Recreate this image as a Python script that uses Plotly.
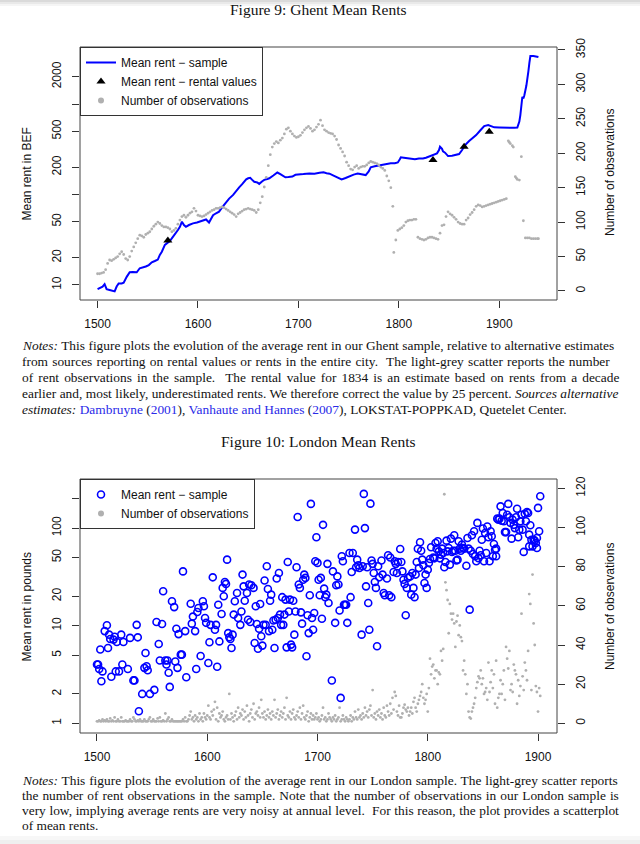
import plotly.graph_objects as go

# ---------------- Figure 9: Ghent ----------------
ghent_years = [1500, 1503, 1505, 1507, 1509, 1512, 1515, 1517, 1519, 1521, 1524, 1526, 1529, 1532, 1535,
               1539, 1542, 1545, 1548, 1551, 1554, 1557, 1560, 1562, 1564, 1567, 1570, 1572, 1575, 1577,
               1580, 1582, 1584, 1586, 1588, 1591, 1595, 1599, 1602, 1605, 1608, 1611, 1613, 1615, 1618,
               1621, 1624, 1628, 1631, 1635, 1638, 1641, 1644, 1648, 1650, 1652, 1654, 1656, 1659, 1661,
               1664, 1666, 1669, 1671, 1675, 1679, 1682, 1687, 1690, 1694, 1697, 1700, 1705, 1711, 1716,
               1721, 1725, 1728, 1731, 1735, 1740, 1743, 1747, 1751, 1755, 1759, 1763, 1767, 1770, 1772,
               1776, 1782, 1787, 1792, 1796, 1799, 1801, 1802, 1805, 1808, 1812, 1816, 1820, 1824, 1827,
               1830, 1834, 1838, 1840, 1841, 1843, 1844, 1846, 1849, 1853, 1857, 1860, 1863, 1866, 1870,
               1874, 1877, 1881, 1885, 1889, 1892, 1895, 1900, 1905, 1910, 1915, 1918, 1920, 1921, 1923,
               1924, 1925, 1927, 1928, 1929, 1930, 1931, 1934, 1939]
ghent_rent = [9.0, 9.3, 9.6, 10.2, 9.0, 8.8, 8.6, 8.5, 9.6, 10.4, 10.4, 10.6, 12.3, 13.8, 13.9,
              13.8, 15.3, 15.6, 16.0, 16.6, 17.8, 18.4, 19.1, 21.5, 23.3, 27.7, 29.5, 30.5, 34, 37,
              40.5, 44, 50, 46, 44, 46, 48, 49, 50, 51, 53, 49, 55, 59, 62,
              64.6, 72, 83, 90, 99, 110, 120, 130, 147, 151, 153, 145, 138, 136, 131,
              140, 145, 148, 151, 162, 175, 168, 155, 156, 158, 165, 167, 168, 171, 170,
              174, 176, 172, 170, 162, 152, 147, 152, 160, 166, 170, 168, 164, 180, 200,
              205, 212, 216, 221, 222, 226, 245, 258, 255, 251, 247, 245, 250, 250, 255,
              262, 270, 285, 310, 337, 320, 300, 290, 266, 268, 275, 280, 310, 352, 390,
              425, 454, 510, 571, 586, 570, 552, 550, 547, 550, 545, 550, 640, 755, 1203,
              1150, 1250, 1600, 1850, 2300, 2850, 3390, 3400, 3300]

rental_years = [1570, 1834, 1865, 1890]
rental_values = [31, 240, 337, 494]

ghent_obs_years = [1500, 1502, 1504, 1506, 1508, 1510, 1512, 1514, 1516, 1518, 1520, 1522, 1524, 1526, 1528,
                   1530, 1532, 1534, 1536, 1538, 1540, 1542, 1544, 1546, 1548, 1550, 1552, 1554, 1556, 1558,
                   1560, 1562, 1564, 1566, 1568, 1570, 1572, 1574, 1576, 1578, 1580, 1582, 1584, 1586, 1588,
                   1590, 1592, 1594, 1596, 1598, 1600, 1602, 1604, 1606, 1608, 1610, 1612, 1614, 1616, 1618,
                   1620, 1622, 1624, 1626, 1628, 1630, 1632, 1634, 1636, 1638, 1640, 1642, 1644, 1646, 1648,
                   1650, 1652, 1654, 1656, 1658, 1660, 1662, 1664, 1666, 1668, 1670, 1672, 1674, 1676, 1678,
                   1680, 1682, 1684, 1686, 1688, 1690, 1692, 1694, 1696, 1698, 1700, 1702, 1704, 1706, 1708,
                   1710, 1712, 1714, 1716, 1718, 1720, 1722, 1724, 1726, 1728, 1730, 1732, 1734, 1736, 1738,
                   1740, 1742, 1744, 1746, 1748, 1750, 1752, 1754, 1756, 1758, 1760, 1762, 1764, 1766, 1768,
                   1770, 1772, 1774, 1776, 1778, 1780, 1782, 1784, 1786, 1788, 1790, 1792, 1794, 1795, 1797,
                   1799, 1801, 1803, 1805, 1807, 1809, 1811, 1813, 1815, 1817, 1819, 1821, 1823, 1825, 1827,
                   1829, 1831, 1833, 1835, 1837, 1839, 1841, 1843, 1845, 1847, 1849, 1851, 1853, 1855, 1857,
                   1859, 1861, 1863, 1865, 1867, 1869, 1871, 1873, 1875, 1877, 1879, 1881, 1883, 1885, 1887,
                   1889, 1891, 1893, 1895, 1897, 1899, 1901, 1903, 1905, 1907, 1909, 1910, 1911, 1913, 1914,
                   1916, 1917, 1918, 1920, 1922, 1924, 1926, 1928, 1930, 1932, 1934, 1936, 1938, 1939]
ghent_obs = [25, 25, 26, 27, 31, 40, 45, 44, 46, 48, 50, 54, 57, 53, 47,
             45, 50, 58, 64, 70, 76, 81, 80, 78, 82, 84, 86, 90, 94, 97,
             100, 98, 95, 93, 93, 92, 90, 86, 88, 91, 97, 103, 108, 110, 107,
             110, 113, 115, 120, 116, 110, 109, 108, 109, 111, 113, 115, 117, 118, 120,
             120, 121, 122, 121, 119, 117, 115, 113, 111, 108, 112, 114, 116, 118, 119,
             120, 119, 118, 117, 114, 118, 128, 137, 151, 165, 182, 198, 209, 214, 217,
             215, 219, 222, 228, 235, 237, 232, 228, 225, 223, 224, 226, 230, 234, 237,
             239, 236, 232, 234, 238, 242, 248, 240, 234, 232, 230, 229, 228, 225, 220,
             212, 207, 202, 196, 187, 182, 177, 176, 180, 182, 178, 180, 181, 181, 183,
             186, 188, 187, 186, 185, 183, 180, 178, 175, 167, 160, 150, 123, 56, 74,
             88, 90, 92, 95, 100, 102, 103, 103, 104, 104, 78, 76, 75, 74, 75,
             77, 78, 78, 77, 76, 75, 84, 95, 96, 108, 115, 112, 110, 107, 104,
             100, 98, 97, 97, 103, 106, 111, 114, 118, 123, 125, 124, 122, 123, 124,
             125, 126, 127, 128, 129, 130, 131, 132, 133, 134, 218, 216, 214, 211, 209,
             166, 164, 162, 161, 195, 102, 77, 77, 77, 76, 76, 76, 76, 76]

# ---------------- Figure 10: London ----------------
london_years = [1500, 1501, 1502, 1503, 1504, 1505, 1507, 1509, 1510, 1511, 1512, 1513, 1515, 1516, 1517,
                1518, 1520, 1522, 1523, 1524, 1528, 1530, 1533, 1534, 1536, 1537, 1538, 1541, 1543, 1544,
                1545, 1546, 1548, 1552, 1554, 1556, 1557, 1559, 1560, 1562, 1563, 1564, 1565, 1566, 1568,
                1570, 1571, 1572, 1573, 1574, 1576, 1577, 1578, 1580, 1581, 1585, 1586, 1587, 1589, 1590,
                1591, 1592, 1594, 1596, 1597, 1598, 1599, 1601, 1602, 1603, 1605, 1607, 1608, 1609, 1610,
                1611, 1613, 1614, 1615, 1616, 1617, 1618, 1619, 1620, 1621, 1622, 1623, 1624, 1625, 1627,
                1628,
                1630, 1631, 1632, 1633, 1634, 1636, 1637, 1638, 1639, 1640, 1642, 1643, 1644, 1645, 1646,
                1647, 1648, 1649, 1650, 1651, 1652, 1653, 1654, 1655, 1656, 1657, 1658, 1659, 1660, 1661,
                1662, 1663, 1664, 1665, 1666, 1667, 1668, 1669, 1670, 1671, 1672, 1673, 1674, 1675, 1676,
                1677, 1678, 1679, 1680, 1681, 1682, 1683, 1684, 1685, 1686, 1687, 1688, 1689, 1690, 1691,
                1692, 1693, 1694, 1695, 1696, 1697, 1698, 1699, 1700, 1701, 1702, 1703, 1704, 1705, 1706,
                1707, 1708, 1709, 1710, 1713, 1714, 1716, 1717, 1718, 1719, 1720, 1721, 1722, 1723, 1724,
                1725, 1726, 1727, 1729, 1730, 1731, 1732, 1734, 1735, 1736, 1737, 1738, 1740, 1741, 1742,
                1743, 1744, 1745, 1746, 1747, 1748, 1749, 1750, 1751, 1752, 1753, 1754, 1755, 1756, 1758,
                1759, 1760, 1761, 1763, 1764, 1765, 1766, 1767, 1769, 1770, 1771, 1772, 1773,
                1775, 1776, 1777, 1778, 1779, 1780, 1781, 1782, 1784, 1785, 1786, 1787, 1788, 1789, 1790,
                1791, 1792, 1793, 1794, 1795, 1796, 1797, 1798, 1799, 1800, 1801, 1802, 1803, 1805, 1806,
                1807, 1808, 1809, 1810, 1811, 1812, 1813, 1814, 1815, 1816, 1817, 1818, 1819, 1820, 1821,
                1822, 1823, 1824, 1825, 1826, 1827, 1828, 1829, 1830, 1831, 1832, 1833, 1835, 1836, 1837,
                1838, 1839, 1840, 1841, 1842, 1843, 1844, 1845, 1846, 1847, 1848, 1849, 1850, 1851, 1852,
                1853, 1854, 1855, 1856, 1857, 1858, 1859, 1860, 1861, 1862, 1862, 1863, 1864, 1865, 1866,
                1867, 1868, 1869, 1870, 1871, 1872, 1873, 1874, 1875, 1876, 1877, 1878, 1879, 1880, 1881,
                1882, 1883, 1884, 1885, 1886, 1887, 1888, 1889, 1890, 1891, 1892, 1892, 1893, 1894, 1895,
                1896, 1897, 1898, 1899, 1899, 1900, 1901, 1902]
london_rent = [4.0, 4.0, 3.6, 5.7, 2.7, 3.4, 8.8, 10.1, 5.9, 8.1, 7.3, 3.0, 7.2, 7.7, 3.4,
               6.8, 3.4, 8.1, 4.0, 6.8, 3.6, 7.5, 2.75, 2.75, 10.2, 7.6, 1.33, 2.0, 3.7, 5.25,
               3.84, 3.5, 2.0, 2.2, 10.9, 6.5, 4.4, 10.4, 22.5, 4.4, 4.0, 4.4, 3.3, 2.36, 17.8,
               15.5, 4.3, 9.3, 3.7, 8.2, 5.05, 5.05, 36, 8.8, 2.96, 16.8, 10.5, 12.4, 8.8, 3.6,
               13.8, 15.2, 4.9, 17.8, 15.8, 12, 10.7, 4.15, 6.76, 10.2, 31.3, 9.1, 10.2, 3.8, 16.4,
               6.9, 13.2, 24.4, 20, 28, 26.8, 47.5, 8.4, 7.6, 7.3, 5.9, 8.1, 13, 17.8, 21.6,
               12,
               10.2, 14, 33.4, 25.3, 18, 21.6, 11.5, 26.4, 10.9, 26, 24.4, 6.65, 15.8, 10.4, 5.8,
               9.3, 16.7, 7.8, 6.25, 10.2, 29, 10.2, 40.6, 23.8, 8.8, 18, 20.8, 9.1, 11.3, 5.9,
               11.5, 30.4, 12, 34.7, 13, 10.2, 19.6, 10.2, 13, 18.5, 6.0, 45, 14, 18.5, 6.4,
               6.0, 18, 8.1, 14, 39.7, 130, 26.4, 24.4, 13.7, 10.5, 29.6, 33.4, 30.9, 4.86, 12.8,
               8.4, 20.5, 177, 12, 9.1, 13.5, 45.7, 80.5, 44, 29.6, 20.5, 30.9, 11.8, 108, 24,
               19.6, 20.8, 43, 17.1, 2.74, 36, 10.7, 26, 32, 26.4, 14.3, 1.82, 51.4, 45.7, 16.4,
               16.4, 16.4, 10.7, 55.6, 19.6, 35.5, 55.6, 96.5, 39.7, 47.5, 41.6, 39, 8.1, 40.6, 224,
               100, 25.3, 39.7, 17.1, 9.1, 178, 46.6, 43, 34.7, 28, 24.4, 6.15, 40.6, 31.3, 46.6,
               33.4, 21.6, 20.5, 30.4, 52.7, 20.5, 50, 19.6, 35.5, 45.7, 43, 34.7, 45,
               61, 45, 36, 29.6, 26.8, 12.8, 24.4, 31, 32, 20.8, 34.7, 24.4, 19.6, 33.4, 45,
               61.5, 39, 71.6, 58.7, 47.5, 41.6, 27.4, 33.4, 24.4, 37.5, 44, 48.3, 63.6, 50, 49,
               70.4, 61.6, 73.3, 57.8, 49, 53.5, 61.6, 55.6, 39.7, 45, 74.4, 57.8, 62.5, 42.2, 78,
               57, 58.7, 84.4, 58.7, 46.6, 47.5, 73.3, 61.6, 58.7, 67.7, 62.5, 61.6, 41.2, 79.2, 61.6,
               14.6, 58.7, 84.4, 54.3, 92.7, 51.4, 45.7, 113, 49.2, 58.7, 52.7, 76, 99, 45.7, 89,
               55.6, 104, 80.5, 45.7, 92.7, 82.4, 51.4, 68.8, 60, 61.6, 51.4, 125, 122, 125, 167,
               119, 143, 117.5, 91, 91, 137, 177, 129, 113, 78, 122, 108, 100, 129, 158,
               80.5, 96.4, 117.5, 137, 96.4, 57, 140, 117.5, 146, 143, 85.7, 65, 107, 76, 65,
               76, 74.4, 70.4, 62.5, 79.2, 161, 92.7, 212]

london_obs_years = list(range(1500, 1903))
london_obs = [1, 1, 1.5, 1, 1, 2, 1, 1.5, 1, 2, 1, 1, 2.5, 1, 1.5, 1, 3, 1, 1, 2,
              1, 1, 3, 1, 1, 1, 1.5, 1, 1, 1, 2, 1, 1, 3, 2, 1, 1, 1.5, 1, 2,
              1, 1, 1, 2, 1, 1, 1, 2, 3, 1, 1, 2, 1, 1, 1, 2.5, 1, 3, 1, 1,
              1.5, 1, 5, 1, 2, 3, 1, 1, 2, 1, 1, 1, 1, 1, 1, 1, 1, 1, 2, 1,
              3, 1, 1, 2, 4, 6, 2, 3, 1, 4, 2, 3, 1, 5, 2, 3, 1, 5, 3, 2,
              4, 9, 3, 2, 6, 4, 7, 11, 2, 8, 1, 5, 3, 4, 6, 2, 1, 3, 4, 2,
              15, 2, 5, 3, 1, 4, 6, 2, 8, 3, 5, 4, 7, 2, 6, 3, 9, 4, 1, 5,
              7, 3, 10, 2, 5, 6, 4, 8, 3, 12, 5, 3, 6, 2, 4, 7, 3, 5, 2, 6,
              4, 12, 3, 5, 7, 2, 4, 6, 3, 5, 8, 2, 13, 4, 3, 6, 2, 5, 7, 3,
              2, 4, 6, 3, 8, 2, 5, 9, 3, 2, 4, 6, 1, 3, 5, 2, 4, 2, 3, 5,
              2, 3, 1, 2, 4, 8, 2, 3, 1, 2, 5, 3, 2, 1, 3, 2, 4, 1, 2, 3,
              8, 1, 2, 4, 2, 1, 3, 2, 1, 2, 4, 1, 3, 2, 6, 3, 2, 7, 3, 4,
              2, 5, 3, 8, 4, 6, 3, 7, 9, 4, 17, 3, 5, 2, 6, 4, 7, 3, 5, 2,
              8, 4, 3, 9, 6, 4, 10, 5, 13, 7, 16, 14, 6, 4, 9, 3, 3, 5, 8, 9.5,
              7, 6, 8, 4, 6, 8, 5, 11, 13, 8, 6, 10, 12, 14, 16, 20, 13, 10, 12, 15,
              6, 18, 33, 25, 29, 30, 23, 27, 27, 20, 26, 25, 37, 32, 38, 117, 72, 68, 63, 46,
              61, 56, 53, 56, 51, 39, 52, 55, 45, 50, 44, 42, 27, 32, 25, 15, 20, 6, 3, 2.4,
              6, 8, 10, 13, 18, 21, 24, 23, 27, 20, 23, 15, 16, 18, 12, 31, 16, 21, 27, 18,
              25, 10, 32, 8, 13, 15, 22, 15, 20, 27, 12, 39, 33, 28, 37, 17, 20, 16, 30, 27,
              25, 10, 22, 14, 19, 56, 24, 17, 31, 27, 22, 37, 66, 61, 17, 76, 51, 40, 19, 16,
              6, 18, 14]

# ---------------- styling constants ----------------
BLUE = "#0000ff"
GREY = "#b0b0b0"
SANS = "Liberation Sans"
SERIF = "Liberation Serif"
W, H = 640, 844


def px(x):
    return x / W


def py(y):
    return 1 - y / H


fig = go.Figure()

fig.add_trace(go.Scatter(x=ghent_years, y=ghent_rent, mode="lines",
                         line=dict(color=BLUE, width=2), name="Mean rent \u2212 sample",
                         xaxis="x", yaxis="y", legend="legend", legendrank=1))
fig.add_trace(go.Scatter(x=rental_years, y=rental_values, mode="markers",
                         marker=dict(symbol="triangle-up", size=8, color="black"),
                         name="Mean rent \u2212 rental values", xaxis="x", yaxis="y",
                         legend="legend", legendrank=2))
fig.add_trace(go.Scatter(x=[None], y=[None], mode="markers",
                         marker=dict(size=6, color=GREY), name="Number of observations",
                         xaxis="x", yaxis="y2", legend="legend", legendrank=3))
fig.add_trace(go.Scatter(x=ghent_obs_years, y=ghent_obs, mode="markers",
                         marker=dict(size=2.8, color=GREY), showlegend=False,
                         xaxis="x", yaxis="y2"))

fig.add_trace(go.Scatter(x=london_years, y=london_rent, mode="markers",
                         marker=dict(symbol="circle-open", size=7, color=BLUE,
                                     line=dict(width=1.6, color=BLUE)),
                         name="Mean rent \u2212 sample", xaxis="x2", yaxis="y3",
                         legend="legend2", legendrank=1))
fig.add_trace(go.Scatter(x=[None], y=[None], mode="markers",
                         marker=dict(size=6, color=GREY), name="Number of observations",
                         xaxis="x2", yaxis="y4", legend="legend2", legendrank=2))
fig.add_trace(go.Scatter(x=london_obs_years, y=london_obs, mode="markers",
                         marker=dict(size=2.8, color=GREY), showlegend=False,
                         xaxis="x2", yaxis="y4"))

tickfont = dict(family=SANS, size=12, color="#111")
common_axis = dict(showgrid=False, zeroline=False, showline=False, ticks="outside",
                   ticklen=7, tickwidth=1, tickcolor="#333", tickfont=tickfont,
                   automargin=False)

xdom = [px(80), px(557)]
fig.update_layout(
    width=W, height=H, autosize=False,
    margin=dict(l=0, r=0, t=0, b=0, pad=0, autoexpand=False),
    paper_bgcolor="white", plot_bgcolor="white",
    showlegend=True,
    xaxis=dict(domain=xdom, anchor="y", range=[1482.5, 1957.5],
               tickvals=[1500, 1600, 1700, 1800, 1900], ticklabelstandoff=6, **common_axis),
    yaxis=dict(domain=[py(300), py(47)], anchor="x", type="log", range=[0.834, 3.63],
               tickvals=[10, 20, 50, 100, 200, 500, 1000, 2000],
               ticktext=["10", "20", "50", "", "200", "500", "", "2000"],
               tickangle=-90, ticklabelstandoff=6, **common_axis),
    yaxis2=dict(overlaying="y", side="right", anchor="x", range=[-13.1, 354.3],
                tickvals=[0, 50, 100, 150, 200, 250, 300, 350],
                tickangle=-90, ticklabelstandoff=6, **common_axis),
    xaxis2=dict(domain=xdom, anchor="y3", range=[1484.6, 1917.2],
                tickvals=[1500, 1600, 1700, 1800, 1900], ticklabelstandoff=6, **common_axis),
    yaxis3=dict(domain=[py(733), py(479)], anchor="x2", type="log", range=[-0.0994, 2.503],
                tickvals=[1, 2, 5, 10, 20, 50, 100, 200],
                ticktext=["1", "2", "5", "10", "20", "50", "100", ""],
                tickangle=-90, ticklabelstandoff=6, **common_axis),
    yaxis4=dict(overlaying="y3", side="right", anchor="x2", range=[-4.95, 124.8],
                tickvals=[0, 20, 40, 60, 80, 100, 120],
                tickangle=-90, ticklabelstandoff=6, **common_axis),
    legend=dict(x=px(80), y=py(47), xanchor="left", yanchor="top",
                bordercolor="#333", borderwidth=1, bgcolor="white",
                font=dict(family=SANS, size=12, color="#111"), tracegroupgap=0),
    legend2=dict(x=px(80), y=py(479), xanchor="left", yanchor="top",
                 bordercolor="#333", borderwidth=1, bgcolor="white",
                 font=dict(family=SANS, size=12, color="#111"), tracegroupgap=0),
)

for xr, yr in (("x domain", "y domain"), ("x2 domain", "y3 domain")):
    fig.add_shape(type="rect", xref=xr, yref=yr, x0=0, x1=1, y0=0, y1=1,
                  line=dict(color="#444", width=1), layer="above")

# faint page shadow at the top and bottom edges of the screenshot
for y0, y1, col in ((0, 2, "#dadada"), (2, 4, "#e9e9e9"), (4, 6, "#f5f5f5"),
                    (836, 840, "#f7f7f7"), (840, 844, "#efefef")):
    fig.add_shape(type="rect", xref="paper", yref="paper", x0=0, x1=1, y0=py(y1), y1=py(y0),
                  line=dict(width=0), fillcolor=col, layer="below")

ann = []


def text(x, y, s, size=12, family=SANS, angle=0, xanchor="center", color="#111"):
    ann.append(dict(x=px(x), y=py(y), xref="paper", yref="paper", text=s, showarrow=False,
                    xanchor=xanchor, yanchor="middle", textangle=angle,
                    font=dict(family=family, size=size, color=color)))


text(26.5, 174, "Mean rent in BEF", angle=-90)
text(610, 173, "Number of observations", angle=-90)
text(26.5, 607, "Mean rent in pounds", angle=-90)
text(610, 607, "Number of observations", angle=-90)

text(318.5, 9, "Figure 9: Ghent Mean Rents", size=15.5, family=SERIF)
text(318.5, 441.5, "Figure 10: London Mean Rents", size=15.5, family=SERIF)


def js(s, ws):
    return '<span style="word-spacing:%.2fpx">%s</span>' % (ws, s) if ws else s


LINK = '<span style="color:#2a2ae8">%s</span>'
notes9 = [
    ("<i>Notes:</i> This figure plots the evolution of the average rent in our Ghent sample, relative to alternative estimates", 0.1),
    ("from sources reporting on rental values or rents in the entire city.  The light-grey scatter reports the number", 0.8),
    ("of rent observations in the sample.  The rental value for 1834 is an estimate based on rents from a decade", 1.75),
    ("earlier and, most likely, underestimated rents. We therefore correct the value by 25 percent. <i>Sources alternative</i>", 0.1),
    ("<i>estimates:</i> " + LINK % "Dambruyne" + " (" + LINK % "2001" + "), " + LINK % "Vanhaute and Hannes"
     + " (" + LINK % "2007" + "), LOKSTAT-POPPKAD, Quetelet Center.", 0),
]
notes10 = [
    ("<i>Notes:</i> This figure plots the evolution of the average rent in our London sample. The light-grey scatter reports", 0.45),
    ("the number of rent observations in the sample. Note that the number of observations in our London sample is", 0.7),
    ("very low, implying average rents are very noisy at annual level.  For this reason, the plot provides a scatterplot", 0.3),
    ("of mean rents.", 0),
]
for i, (s, ws) in enumerate(notes9):
    text(20, 345.7 + 16 * i, js(s, ws), size=13.4, family=SERIF, xanchor="left")
for i, (s, ws) in enumerate(notes10):
    text(20, 780.7 + 15 * i, js(s, ws), size=13.4, family=SERIF, xanchor="left")

fig.update_layout(annotations=ann)

fig.write_html("out.html", config={"displayModeBar": False},
               post_script="document.body.style.margin='0px';document.body.style.overflow='hidden';")
